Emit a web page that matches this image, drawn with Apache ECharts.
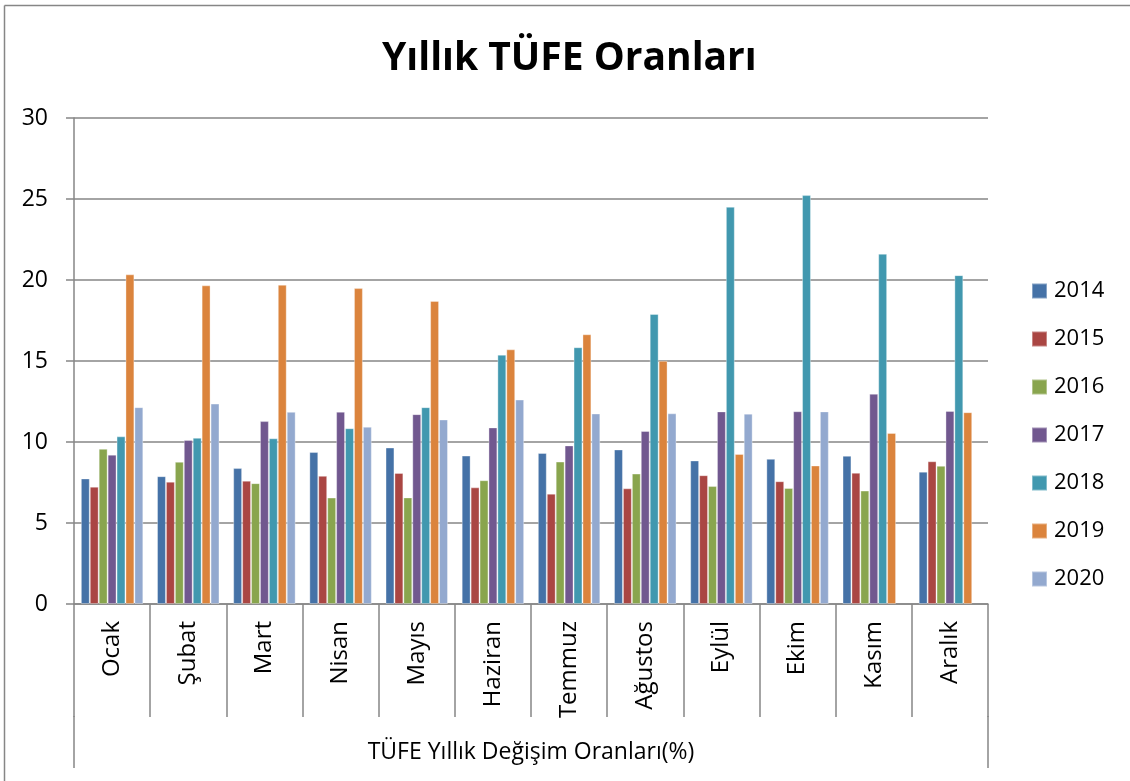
<!DOCTYPE html>
<html>
<head>
<meta charset="utf-8">
<script src="https://cdn.jsdelivr.net/npm/echarts@6/dist/echarts.min.js"></script>
<style>
html,body{margin:0;padding:0;background:#fff;}
#c{width:1130px;height:781px;}
</style>
</head>
<body>
<div id="c"></div>
<script>
const months = ['Ocak','Şubat','Mart','Nisan','Mayıs','Haziran','Temmuz','Ağustos','Eylül','Ekim','Kasım','Aralık'];
const years = ['2014','2015','2016','2017','2018','2019','2020'];
const v2014 = [7.75, 7.89, 8.39, 9.38, 9.66, 9.16, 9.32, 9.54, 8.86, 8.96, 9.15, 8.17];
const v2015 = [7.24, 7.55, 7.61, 7.91, 8.09, 7.20, 6.81, 7.14, 7.95, 7.58, 8.10, 8.81];
const v2016 = [9.58, 8.78, 7.46, 6.57, 6.58, 7.64, 8.79, 8.05, 7.28, 7.16, 7.00, 8.53];
const v2017 = [9.22, 10.13, 11.29, 11.87, 11.72, 10.90, 9.79, 10.68, 11.89, 11.90, 12.98, 11.92];
const v2018 = [10.35, 10.26, 10.23, 10.85, 12.15, 15.39, 15.85, 17.90, 24.52, 25.24, 21.62, 20.30];
const v2019 = [20.35, 19.67, 19.71, 19.50, 18.71, 15.72, 16.65, 15.01, 9.26, 8.55, 10.56, 11.84];
const v2020 = [12.15, 12.37, 11.86, 10.94, 11.39, 12.62, 11.76, 11.77, 11.75, 11.89, null, null];
const yTicks = [0, 5, 10, 15, 20, 25, 30];

const seriesValues = [v2014, v2015, v2016, v2017, v2018, v2019, v2020];
const colors = ['#4572A7','#AA4643','#89A54E','#71588F','#4198AF','#DB843D','#93A9CF'];
const FONT = 'Open Sans';
const GRAY = '#868686';

const chart = echarts.init(document.getElementById('c'), null, {renderer:'canvas'});
chart.setOption({
  animation: false,
  backgroundColor: '#fff',
  color: colors,
  title: {
    text: 'Yıllık TÜFE Oranları',
    left: 377,
    top: 34,
    textStyle: {fontFamily: FONT, fontWeight: 'bold', fontSize: 39, color: '#000'}
  },
  legend: {
    orient: 'vertical',
    left: 1031,
    top: 280,
    padding: 0,
    itemWidth: 15,
    itemHeight: 15,
    itemGap: 26,
    icon: 'rect',
    data: years,
    textStyle: {fontFamily: FONT, fontSize: 22, color: '#000', lineHeight: 22, padding: [0,0,0,2]}
  },
  grid: {left: 74, right: 142, top: 118, bottom: 177, containLabel: false},
  xAxis: {
    type: 'category',
    data: months,
    name: 'TÜFE Yıllık Değişim Oranları(%)',
    nameLocation: 'middle',
    nameGap: 137,
    nameTextStyle: {fontFamily: FONT, fontSize: 23, color: '#000'},
    axisLine: {show: true, lineStyle: {color: GRAY, width: 1.5}},
    axisTick: {show: true, interval: 0, length: 113, lineStyle: {color: GRAY, width: 1.5}},
    axisLabel: {rotate: 90, interval: 0, margin: 17, fontFamily: FONT, fontSize: 24, color: '#000'},
    splitLine: {show: false}
  },
  yAxis: {
    type: 'value',
    min: 0, max: 30, interval: 5,
    axisLine: {show: true, lineStyle: {color: GRAY, width: 1.5}},
    axisTick: {show: true, length: 8, lineStyle: {color: GRAY, width: 1.5}},
    axisLabel: {margin: 26, fontFamily: FONT, fontSize: 23, color: '#000',
      formatter: function(v){ return yTicks.indexOf(v) >= 0 ? String(v) : ''; }},
    splitLine: {show: true, lineStyle: {color: GRAY, width: 1.5}}
  },
  series: years.map(function(y, i){
    return {
      name: y,
      type: 'bar',
      data: seriesValues[i],
      barGap: '0%',
      barCategoryGap: '18%',
      itemStyle: {color: colors[i], borderColor: 'rgba(255,255,255,0.35)', borderWidth: 1}
    };
  }),
  graphic: [
    {type: 'line', shape: {x1: 4.5, y1: 5.5, x2: 1130, y2: 5.5}, style: {stroke: GRAY, lineWidth: 1.5}, silent: true},
    {type: 'line', shape: {x1: 4.5, y1: 5.5, x2: 4.5, y2: 781}, style: {stroke: GRAY, lineWidth: 1.5}, silent: true},
    {type: 'line', shape: {x1: 74, y1: 716, x2: 74, y2: 768}, style: {stroke: GRAY, lineWidth: 1.5}, silent: true},
    {type: 'line', shape: {x1: 988, y1: 716, x2: 988, y2: 768}, style: {stroke: GRAY, lineWidth: 1.5}, silent: true}
  ]
});
</script>
</body>
</html>
